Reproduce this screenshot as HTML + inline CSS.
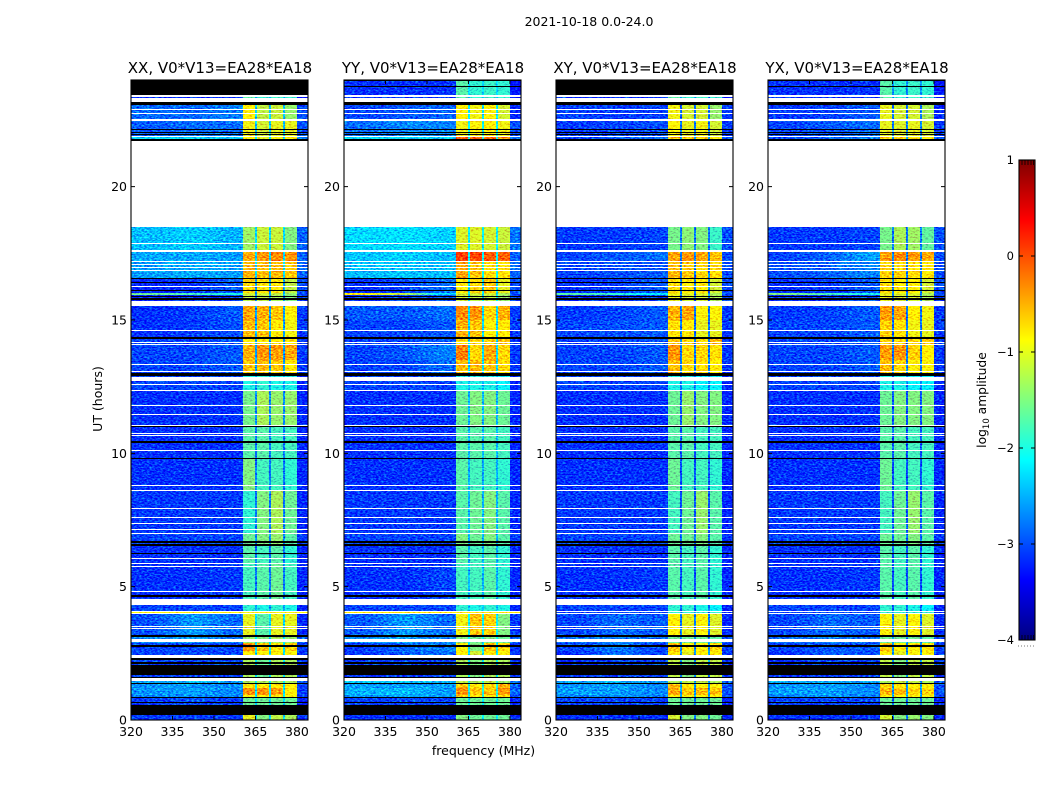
<!DOCTYPE html>
<html>
<head>
<meta charset="utf-8">
<title>2021-10-18 0.0-24.0</title>
<style>
html,body{margin:0;padding:0;background:#fff;width:1050px;height:800px;overflow:hidden}
svg{display:block}
text{font-family:"DejaVu Sans","Liberation Sans",sans-serif;fill:#000}
</style>
</head>
<body>
<svg id="figure" xmlns="http://www.w3.org/2000/svg" width="1050" height="800" viewBox="0 0 1050 800">
  <defs>
    <filter id="grain" x="0" y="0" width="100%" height="100%" color-interpolation-filters="sRGB">
      <feTurbulence type="fractalNoise" baseFrequency="0.38 0.7" numOctaves="2" seed="7" result="n"/>
      <feColorMatrix in="n" type="matrix" values="0.2 0 0 0 0.4  1.5 0 0 0 -0.25  0.2 0 0 0 0.4  0 0 0 0 1" result="m"/>
      <feComposite in="SourceGraphic" in2="m" operator="arithmetic" k1="0" k2="1" k3="0.9" k4="-0.45"/>
    </filter>
  </defs>
  <text x="589" y="26" font-size="12.5" text-anchor="middle">2021-10-18 0.0-24.0</text>
  <text x="483.5" y="755" font-size="12.5" text-anchor="middle">frequency (MHz)</text>
  <text x="102" y="399" font-size="12.5" text-anchor="middle" transform="rotate(-90 102 399)">UT (hours)</text>
  <text x="986" y="400" font-size="12.3" text-anchor="middle" transform="rotate(-90 986 400)">log<tspan font-size="8.5" dy="3">10</tspan><tspan dy="-3"> amplitude</tspan></text>
</svg>
<script>
// ---------- chart data ----------
const panelTitles = ['XX, V0*V13=EA28*EA18','YY, V0*V13=EA28*EA18','XY, V0*V13=EA28*EA18','YX, V0*V13=EA28*EA18'];
const freqTicks = [320,335,350,365,380];
const timeTicks = [0,5,10,15,20];
const colorbarTicks = [1,0,-1,-2,-3,-4];
// centre frequencies (MHz) of the three background level columns
const backgroundAnchors = [327.5,342.5,355.3];
// band channels in MHz above the background, and which level column each reads
const channelEdges = [360.6,365,365.7,370,370.7,375,375.7,380,384];
const channelLevel = [3,7,4,7,5,7,6,8];
// UT hour boundaries of the time sections
const sectionEdges = [0,.19,.86,.95,1.2,1.38,1.6,2.44,2.6,2.9,3.19,3.99,4.04,4.54,5.9,6.56,7,8.6,9.8,11,12.36,13,13.5,14.1,14.37,15,15.53,15.94,16.01,16.56,17.18,17.6,18.49,21.71,21.9,22.5,23.16,24];
// log10 amplitude per section: [bg320-335, bg335-350, bg350-360, sub1, sub2, sub3, sub4, gap, upper edge]
const levelsXX = [
[-3.1,-3.1,-3.1,-1,-1.5,-1.2,-1.3,-2.3,-3.2],[-3.1,-3,-3.1,-1.6,-1.6,-1.6,-1.6,-2.3,-3.2],
[-2.75,-2.65,-2.75,-.9,-.9,-.9,-.9,-2.2,-3.1],[-2.65,-2.6,-2.7,-.35,-.35,-.4,-.85,-2.2,-3.1],
[-2.65,-2.6,-2.7,-.8,-.8,-.8,-.85,-2.2,-3.1],[-2.55,-2.5,-2.6,-1.3,-1.3,-1.3,-1.3,-2.1,-2.9],
[-3.05,-3.05,-3.05,-1.3,-1.6,-1.3,-1.3,-2.3,-3.1],[-3.05,-3,-3.05,-.8,-.9,-.9,-.9,-2.3,-3.1],
[-3.05,-3,-3.05,-.35,-.6,-.8,-.7,-2.2,-3.1],[-2.7,-2.6,-2.8,-1.4,-1.5,-1.3,-1.4,-2.2,-2.9],
[-3,-2.6,-2.85,-1,-1.7,-1,-1,-2.3,-3.2],[-.9,-.9,-.9,-.9,-.9,-.9,-.9,-.9,-.9],
[-3.05,-3.05,-3.05,-1.9,-2,-1.9,-2,-2.6,-3.2],[-3.15,-3.15,-3.1,-1.8,-1.7,-1.6,-1.8,-2.8,-3.2],
[-3.15,-3.15,-3.15,-1.7,-1.8,-1.7,-1.9,-2.8,-3.2],[-3.05,-3.05,-3.05,-1.6,-1.5,-1.4,-1.7,-2.7,-3.1],
[-3.1,-3.1,-3.1,-1.9,-1.5,-1.3,-1.6,-2.8,-3.2],[-3.15,-3.15,-3.15,-1.5,-1.8,-1.8,-1.9,-2.8,-3.2],
[-3.15,-3.15,-3.15,-1.7,-1.7,-1.8,-1.8,-2.8,-3.2],[-3.15,-3.15,-3.15,-1.55,-1.3,-1.4,-1.4,-2.7,-3.2],
[-3.05,-3.05,-3.05,-2,-1.9,-2,-2,-2.6,-3.2],[-3.05,-3.05,-2.95,-.6,-.55,-.6,-.8,-2.6,-3.1],
[-3.05,-3.05,-2.95,-.5,-.35,-.4,-.45,-2.6,-3.1],[-3.05,-3.05,-2.95,-.8,-.8,-.8,-.8,-2.6,-3.1],
[-3.15,-3.1,-3,-.55,-.6,-.8,-.95,-2.6,-3.1],[-3.15,-3.1,-2.95,-.45,-.5,-.6,-.9,-2.6,-3.1],
[-3.2,-3.15,-3.05,-1.2,-1.2,-1.3,-1.5,-2.6,-3.1],[-1.6,-1.8,-2,-1.1,-1.1,-1.2,-1.4,-2.6,-3],
[-3.2,-3.15,-2.95,-.7,-.8,-.8,-1.2,-2.6,-3],[-2.6,-2.55,-2.6,-.5,-.55,-.55,-.6,-2.3,-2.9],
[-2.55,-2.55,-2.6,-.45,-.35,-.3,-.35,-2.3,-2.9],[-2.45,-2.35,-2.5,-1.35,-1.15,-1.15,-1.5,-2.3,-2.9],
[-3,-3,-3,-3,-3,-3,-3,-3,-3],[-2.3,-2.3,-2.4,-.8,-1,-.9,-.8,-2.2,-2.7],
[-2.95,-2.85,-2.85,-.95,-1.1,-1,-1,-2.4,-3],[-2.85,-2.9,-2.75,-.85,-1.2,-1.15,-1.4,-2.4,-3],
[-3.15,-3.15,-3.15,-1.7,-1.9,-1.85,-1.9,-2.4,-3.3]];
const levelsYY = [
[-3.15,-3.15,-3.15,-1.5,-1.6,-1.6,-1.6,-2.2,-3.2],[-3.05,-3.05,-3.05,-1.6,-1.6,-1.6,-1.6,-2.2,-3.2],
[-2.65,-2.55,-2.65,-.6,-.8,-.8,-.7,-2,-3],[-2.5,-2.45,-2.6,-.35,-.6,-.6,-.4,-2,-2.9],
[-2.6,-2.6,-2.6,-.6,-.8,-.7,-.45,-2,-2.9],[-2.4,-2.4,-2.5,-1.2,-1.3,-1.2,-1.4,-2,-2.8],
[-3.1,-3.05,-3.05,-1.3,-1.5,-1.3,-1.3,-2.2,-3.1],[-3.1,-2.95,-2.85,-.8,-1.1,-.8,-.9,-2.2,-3.1],
[-3.1,-2.85,-2.75,-.9,-1.5,-.6,-.7,-2.2,-3.1],[-2.65,-2.55,-2.75,-1.5,-1.6,-1.5,-1.6,-2.1,-2.9],
[-2.95,-2.6,-2.85,-.95,-.6,-.65,-1.5,-2.1,-3.1],[-.8,-.8,-.8,-.8,-.8,-.8,-.8,-.8,-.8],
[-3.05,-3.05,-3.05,-1.9,-2,-1.9,-2,-2.4,-3.2],[-3.15,-3.15,-3.05,-1.8,-1.8,-1.7,-1.9,-2.5,-3.2],
[-3.15,-3.15,-3.15,-1.7,-1.8,-1.7,-1.9,-2.5,-3.2],[-3.05,-3.05,-3.05,-1.5,-1.6,-1.5,-1.7,-2.5,-3.1],
[-3.1,-3.1,-3.1,-1.7,-1.6,-1.5,-1.7,-2.5,-3.2],[-3.15,-3.15,-3.15,-1.7,-1.8,-1.8,-1.9,-2.5,-3.2],
[-3.15,-3.15,-3.15,-1.7,-1.7,-1.7,-1.8,-2.5,-3.2],[-3.15,-3.15,-3.15,-1.6,-1.5,-1.5,-1.6,-2.5,-3.2],
[-3.05,-3.05,-3.05,-2,-2,-2,-2.1,-2.5,-3.2],[-3.05,-3.05,-2.85,-.55,-.55,-.6,-.7,-2.3,-3.1],
[-3.05,-2.95,-2.75,-.25,-.7,-.45,-.7,-2.3,-3.1],[-3.05,-3.05,-2.95,-.7,-.7,-.7,-.6,-2.3,-3.1],
[-3.05,-3.05,-2.95,-.5,-.6,-.9,-.8,-2.3,-3.1],[-2.95,-2.95,-2.85,-.3,-.35,-.7,-.5,-2.3,-3.1],
[-3.15,-3.05,-2.95,-1.1,-1.2,-1.2,-1.4,-2.3,-3.1],[-.9,-1.2,-2.3,-1.1,-1.1,-1.1,-1.3,-2.3,-3],
[-3.15,-3.05,-2.85,-.8,-.7,-.6,-1,-2.3,-3],[-2.45,-2.4,-2.45,-.45,-.6,-.75,-.75,-2.1,-2.9],
[-2.4,-2.35,-2.45,.1,.05,-.05,-.1,-2.1,-2.9],[-2.3,-2.25,-2.35,-1.05,-1.05,-1.1,-1.15,-2.1,-2.8],
[-3,-3,-3,-3,-3,-3,-3,-3,-3],[-2.25,-2.25,-2.35,0,-.1,-.15,-.3,-2,-2.8],
[-2.85,-2.7,-2.75,-.95,-.9,-.85,-.95,-2.1,-3],[-3.05,-2.95,-2.9,-.85,-.95,-.9,-1.1,-2.2,-3.2],
[-3.15,-3.15,-3.15,-1.7,-1.9,-1.85,-1.9,-2.3,-3.3]];
const levelsXY = [
[-3.15,-3.15,-3.15,-1.1,-1.5,-1.5,-1.6,-2.8,-3.2],[-3.05,-3.05,-3.05,-1.6,-1.6,-1.6,-1.6,-2.8,-3.2],
[-2.75,-2.65,-2.75,-.9,-.9,-.9,-.9,-2.6,-3],[-2.6,-2.6,-2.7,-.45,-.6,-.55,-.6,-2.6,-3],
[-2.65,-2.6,-2.7,-.55,-.8,-.85,-.9,-2.6,-3],[-2.55,-2.5,-2.65,-1.3,-1.2,-1.2,-1.3,-2.5,-2.9],
[-3.15,-3.05,-3.05,-1.2,-1.5,-1.2,-1.2,-2.7,-3.1],[-3.15,-2.8,-3.05,-.8,-1,-.85,-.85,-2.7,-3.1],
[-3.05,-2.75,-3.05,-.6,-.9,-.9,-.7,-2.7,-3.1],[-2.85,-2.75,-2.85,-1.6,-1.6,-1.6,-1.7,-2.7,-3],
[-3.05,-2.85,-2.95,-.85,-1,-.9,-1.05,-2.8,-3.2],[-3.05,-3.05,-3.05,-1.9,-1.9,-1.9,-1.9,-2.8,-3.2],
[-3.05,-3.05,-3.05,-1.9,-1.9,-2,-2.1,-2.9,-3.2],[-3.15,-3.15,-3.1,-1.7,-1.8,-1.7,-1.9,-3,-3.2],
[-3.15,-3.15,-3.15,-1.7,-1.8,-1.7,-1.9,-3,-3.2],[-3.05,-3.05,-3.05,-1.6,-1.6,-1.5,-1.7,-2.9,-3.1],
[-3.1,-3.1,-3.1,-1.8,-1.6,-1.4,-1.7,-3,-3.2],[-3.15,-3.15,-3.15,-1.6,-1.8,-1.8,-1.9,-3,-3.2],
[-3.15,-3.15,-3.15,-1.7,-1.7,-1.8,-1.8,-3,-3.2],[-3.15,-3.15,-3.15,-1.6,-1.4,-1.5,-1.5,-3,-3.2],
[-3.05,-3.05,-3.05,-2,-2,-2.1,-2.1,-2.8,-3.2],[-3.05,-3.05,-2.95,-.55,-.7,-.75,-.85,-2.8,-3.1],
[-3.05,-3.05,-2.95,-.35,-.7,-.7,-.75,-2.8,-3.1],[-3.05,-3.05,-2.95,-.6,-.7,-.7,-.5,-2.8,-3.1],
[-3.05,-3,-2.95,-.75,-.8,-1,-1,-2.8,-3.1],[-3.1,-3.05,-2.95,-.5,-.45,-.9,-.9,-2.8,-3.1],
[-3.15,-3.1,-3,-1,-1.1,-1.1,-1.3,-2.8,-3.1],[-1.7,-1.9,-2.2,-.95,-1,-1.05,-1.3,-2.8,-3],
[-3.15,-3.1,-2.95,-.75,-.85,-.85,-1.1,-2.8,-3],[-3.05,-3,-2.95,-.55,-.6,-.7,-.75,-2.8,-3],
[-3.05,-2.95,-2.85,-.45,-.35,-.45,-.6,-2.8,-3],[-3.1,-3.1,-3.05,-1.55,-1.45,-1.5,-1.85,-2.8,-3],
[-3,-3,-3,-3,-3,-3,-3,-3,-3],[-3.05,-2.95,-2.85,-.6,-.65,-.7,-.8,-2.6,-3],
[-3.1,-3.05,-3,-.9,-1,-.95,-1.1,-2.8,-3.1],[-3.05,-3.1,-3.05,-.95,-1.1,-1.1,-1.4,-2.9,-3.1],
[-3.15,-3.15,-3.15,-1.7,-1.9,-1.85,-1.9,-2.7,-3.3]];
const levelsYX = [
[-3.15,-3.15,-3.15,-1.1,-1.5,-1.4,-1.5,-2.8,-3.2],[-3.05,-3.05,-3.05,-1.6,-1.6,-1.6,-1.6,-2.8,-3.2],
[-2.75,-2.65,-2.75,-.9,-.9,-.9,-.9,-2.6,-3],[-2.6,-2.6,-2.7,-.5,-.55,-.7,-.7,-2.6,-3],
[-2.65,-2.6,-2.7,-.7,-.8,-.85,-.9,-2.6,-3],[-2.55,-2.5,-2.65,-1.3,-1.2,-1.2,-1.3,-2.5,-2.9],
[-3.15,-3.05,-3.05,-1.2,-1.5,-1.2,-1.2,-2.7,-3.1],[-3.15,-2.9,-3,-.85,-1,-.9,-.9,-2.7,-3.1],
[-3.05,-2.95,-2.95,-.6,-.85,-.9,-.8,-2.7,-3.1],[-2.85,-2.75,-2.85,-1.6,-1.6,-1.6,-1.7,-2.7,-3],
[-3.05,-2.85,-2.95,-.9,-1,-.9,-1.05,-2.8,-3.2],[-3.05,-3.05,-3.05,-1.9,-1.9,-1.9,-1.9,-2.8,-3.2],
[-3.05,-3.05,-3.05,-1.9,-1.9,-2,-2.1,-2.9,-3.2],[-3.15,-3.15,-3.1,-1.7,-1.8,-1.7,-1.9,-3,-3.2],
[-3.15,-3.15,-3.15,-1.7,-1.8,-1.7,-1.9,-3,-3.2],[-3.05,-3.05,-3.05,-1.6,-1.6,-1.5,-1.7,-2.9,-3.1],
[-3.1,-3.1,-3.1,-1.8,-1.6,-1.4,-1.7,-3,-3.2],[-3.15,-3.15,-3.15,-1.6,-1.8,-1.8,-1.9,-3,-3.2],
[-3.15,-3.15,-3.15,-1.7,-1.7,-1.8,-1.8,-3,-3.2],[-3.15,-3.15,-3.15,-1.6,-1.5,-1.5,-1.5,-3,-3.2],
[-3.05,-3.05,-3.05,-2,-2,-2.1,-2.1,-2.8,-3.2],[-3.05,-3.05,-2.95,-.55,-.7,-.9,-.9,-2.8,-3.1],
[-3.05,-3.05,-2.95,-.4,-.35,-.65,-.85,-2.8,-3.1],[-3.05,-3.05,-2.95,-.7,-.7,-.7,-.6,-2.8,-3.1],
[-3.05,-3.05,-2.95,-.65,-.75,-.95,-1,-2.8,-3.1],[-3.1,-3.05,-2.95,-.4,-.45,-.85,-.95,-2.8,-3.1],
[-3.15,-3.1,-3,-1,-1.1,-1.1,-1.3,-2.8,-3.1],[-1.5,-1.8,-2,-1,-1.05,-1.05,-1.3,-2.8,-3],
[-3.15,-3.1,-2.95,-.75,-.85,-.85,-1.1,-2.8,-3],[-3,-2.9,-2.75,-.65,-.7,-.75,-.8,-2.8,-3],
[-3.05,-2.9,-2.6,-.4,-.3,-.4,-.45,-2.8,-3],[-3.1,-3.1,-3.05,-1.55,-1.3,-1.35,-1.65,-2.8,-3],
[-3,-3,-3,-3,-3,-3,-3,-3,-3],[-3.05,-2.9,-2.75,-.7,-.7,-.75,-.85,-2.6,-3],
[-3.05,-2.95,-2.85,-1,-1.05,-1,-1.1,-2.7,-3.1],[-3.1,-3.05,-2.95,-1,-1.1,-1.1,-1.3,-2.8,-3.2],
[-3.15,-3.15,-3.15,-1.7,-1.9,-1.85,-1.9,-2.7,-3.3]];
// flagged (blanked) UT ranges, shown white
const whiteFlags = [[23.35,23.44],[23.16,23.34],[22.9,22.93],[22.755,22.78],[22.48,22.53],[21.85,21.9],[18.49,21.71],[17.85,17.89],[17.61,17.64],[17.55,17.59],[17.18,17.21],[17.06,17.1],[16.95,16.99],[16.85,16.88],[16.24,16.28],[15.53,15.7],[14.6,14.63],[14.15,14.18],[14.07,14.11],[13.3,13.34],[13.05,13.09],[12.7,12.87],[12.56,12.59],[12.34,12.36],[11.78,11.8],[11.44,11.46],[11.04,11.06],[10.73,10.75],[10.68,10.7],[10.09,10.13],[8.8,8.82],[8.59,8.61],[7.91,7.94],[7.58,7.6],[7.38,7.4],[7.12,7.15],[6.98,7],[6.05,6.08],[5.88,5.9],[5.75,5.78],[4.83,4.85],[4.31,4.54],[4.04,4.09],[3.97,4.02],[3.51,3.54],[3.42,3.45],[2.91,3.04],[2.33,2.44],[1.48,1.56]];
// zero-amplitude UT ranges, shown black
const blackFlags = [[23.08,23.16],[22.13,22.15],[22.02,22.05],[21.92,21.96],[21.71,21.78],[16.56,16.59],[16.39,16.43],[16.1,16.13],[15.86,15.89],[15.75,15.83],[14.28,14.37],[12.9,13.01],[11.01,11.04],[10.4,10.45],[9.83,9.84],[6.65,6.7],[6.54,6.59],[6.23,6.25],[4.63,4.67],[3.1,3.17],[2.8,2.83],[2.75,2.78],[2.25,2.33],[2.11,2.17],[1.69,2.06],[1.59,1.62],[1.34,1.38],[.82,.86],[.62,.66],[.54,.58],[.19,.53]];
// extra black ranges per panel (XX and XY are blank at the end of the day)
const topBlackXX = [[23.44,24]];
const topBlackYY = [[23.96,24],[23.73,23.76]];
const topBlackXY = [[23.44,24]];
const topBlackYX = [[23.96,24],[23.73,23.76]];

const panelLevels = [levelsXX, levelsYY, levelsXY, levelsYX];
const panelTopBlack = [topBlackXX, topBlackYY, topBlackXY, topBlackYX];
const panelSlugs = ['xx','yy','xy','yx'];

// ---------- geometry ----------
const panelLeft = [131, 344, 556, 768];
const panelWidth = 177, plotTop = 80, plotBottom = 720;
const freqMin = 320, freqMax = 384, hourMin = 0, hourMax = 24;
const cbLeft = 1019, cbWidth = 16, cbTop = 160, cbBottom = 640, vMin = -4, vMax = 1;
const backgroundStepMHz = 2;

const xScale = (left, f) => left + (f - freqMin) / (freqMax - freqMin) * panelWidth;
const yScale = h => plotBottom - (h - hourMin) / (hourMax - hourMin) * (plotBottom - plotTop);
const cbScale = v => cbBottom - (v - vMin) / (vMax - vMin) * (cbBottom - cbTop);

function jetPart(t) { return Math.max(0, Math.min(1, 1.5 - Math.abs(t))); }
function jet(v) {
  const t = (Math.max(vMin, Math.min(vMax, v)) - vMin) / (vMax - vMin);
  const r = jetPart(4 * t - 3), g = jetPart(4 * t - 2), b = jetPart(4 * t - 1);
  return 'rgb(' + Math.round(r * 255) + ',' + Math.round(g * 255) + ',' + Math.round(b * 255) + ')';
}
// colour a background cell by easing between the three level columns
function backgroundLevel(row, f) {
  if (f <= backgroundAnchors[0]) return row[0];
  if (f >= backgroundAnchors[2]) return row[2];
  const i = f < backgroundAnchors[1] ? 0 : 1;
  const w = (f - backgroundAnchors[i]) / (backgroundAnchors[i + 1] - backgroundAnchors[i]);
  return row[i] * (1 - w) + row[i + 1] * w;
}

const NS = 'http://www.w3.org/2000/svg';
const figure = document.getElementById('figure');
function make(tag, attrs, parent) {
  const el = document.createElementNS(NS, tag);
  for (const k in attrs) el.setAttribute(k, attrs[k]);
  (parent || figure).appendChild(el);
  return el;
}

function drawBand(parent, left, range, color) {
  const y0 = Math.round(yScale(range[1]));
  const y1 = Math.round(yScale(range[0]));
  const el = make('rect', {x: left, y: y0, width: panelWidth, height: Math.max(1, y1 - y0), fill: color, 'shape-rendering': 'crispEdges'}, parent);
  return el;
}

panelTitles.forEach(function (title, p) {
  const left = panelLeft[p];
  const slug = panelSlugs[p];
  const levels = panelLevels[p];
  const panel = make('g', {});
  
  

  const heat = make('g', {filter: 'url(#grain)'}, panel);
  
  
  levels.forEach(function (row, s) {
    const y0 = Math.round(yScale(sectionEdges[s + 1]));
    const y1 = Math.round(yScale(sectionEdges[s]));
    for (let f = freqMin; f < channelEdges[0]; f += backgroundStepMHz) {
      const x0 = Math.round(xScale(left, f));
      const x1 = Math.round(xScale(left, Math.min(f + backgroundStepMHz, channelEdges[0])));
      const bgCell = make('rect', {x: x0, y: y0, width: x1 - x0, height: y1 - y0, fill: jet(backgroundLevel(row, f + backgroundStepMHz / 2)), 'shape-rendering': 'crispEdges'}, heat);
      
      
    }
    channelLevel.forEach(function (col, c) {
      const x0 = Math.round(xScale(left, channelEdges[c]));
      const x1 = Math.round(xScale(left, channelEdges[c + 1]));
      const cell = make('rect', {x: x0, y: y0, width: x1 - x0, height: y1 - y0, fill: jet(row[col]), 'shape-rendering': 'crispEdges'}, heat);
      
      
    });
  });

  whiteFlags.forEach(function (range) {
    const band = drawBand(panel, left, range, '#fff');
    
    
  });
  blackFlags.concat(panelTopBlack[p]).forEach(function (range) {
    const band = drawBand(panel, left, range, '#000');
    
    
  });

  const frame = make('rect', {x: left, y: plotTop, width: panelWidth, height: plotBottom - plotTop, fill: 'none', stroke: '#000', 'stroke-width': 1.1}, panel);
  
  

  const titleEl = make('text', {x: left + panelWidth / 2 + 0.5, y: 73, 'font-size': 15, 'text-anchor': 'middle'}, panel);
  titleEl.textContent = title;
  
  

  freqTicks.forEach(function (f) {
    const x = xScale(left, f);
    const tick = make('path', {d: 'M' + x + ' ' + plotBottom + 'v-4M' + x + ' ' + plotTop + 'v4', stroke: '#000', 'stroke-width': 1, fill: 'none'}, panel);
    
    
    const label = make('text', {x: x, y: 736, 'font-size': 12.5, 'text-anchor': 'middle'}, panel);
    label.textContent = f;
    
    
  });
  timeTicks.forEach(function (h) {
    const y = yScale(h);
    const tick = make('path', {d: 'M' + left + ' ' + y + 'h4M' + (left + panelWidth) + ' ' + y + 'h-4', stroke: '#000', 'stroke-width': 1, fill: 'none'}, panel);
    
    
    const label = make('text', {x: left - 4, y: y + 4.5, 'font-size': 12.5, 'text-anchor': 'end'}, panel);
    label.textContent = h;
    
    
  });
});

// ---------- colorbar ----------
const colorbar = make('g', {});


for (let i = cbTop; i < cbBottom; i++) {
  const v = vMax - (i + 0.5 - cbTop) / (cbBottom - cbTop) * (vMax - vMin);
  const strip = make('rect', {x: cbLeft, y: i, width: cbWidth, height: 1, fill: jet(v), 'shape-rendering': 'crispEdges'}, colorbar);
  
  
}
const cbFrame = make('rect', {x: cbLeft, y: cbTop, width: cbWidth, height: cbBottom - cbTop, fill: 'none', stroke: '#000', 'stroke-width': 1.1}, colorbar);


colorbarTicks.forEach(function (v) {
  const y = cbScale(v);
  const tick = make('path', {d: 'M' + cbLeft + ' ' + y + 'h4M' + (cbLeft + cbWidth) + ' ' + y + 'h-4', stroke: '#000', 'stroke-width': 1, fill: 'none'}, colorbar);
  
  
  const label = make('text', {x: cbLeft - 5, y: y + 4, 'font-size': 11.5, 'text-anchor': 'end'}, colorbar);
  label.textContent = v < 0 ? '\u2212' + Math.abs(v) : String(v);
  
  
});
const minorTicks = make('path', {d: 'M1022 160v5M1025 160v5M1028 160v5M1031 160v5M1033.5 160v5M1022 640v-5M1025 640v-5M1028 640v-5M1031 640v-5M1033.5 640v-5', stroke: '#000', 'stroke-width': 0.8, fill: 'none'}, colorbar);


const minorDots = make('path', {d: 'M1018 646h1M1021 646h1M1024 646h1M1027 646h1M1030 646h1M1033 646h1', stroke: '#777', 'stroke-width': 1, fill: 'none'}, colorbar);


</script>
</body>
</html>
